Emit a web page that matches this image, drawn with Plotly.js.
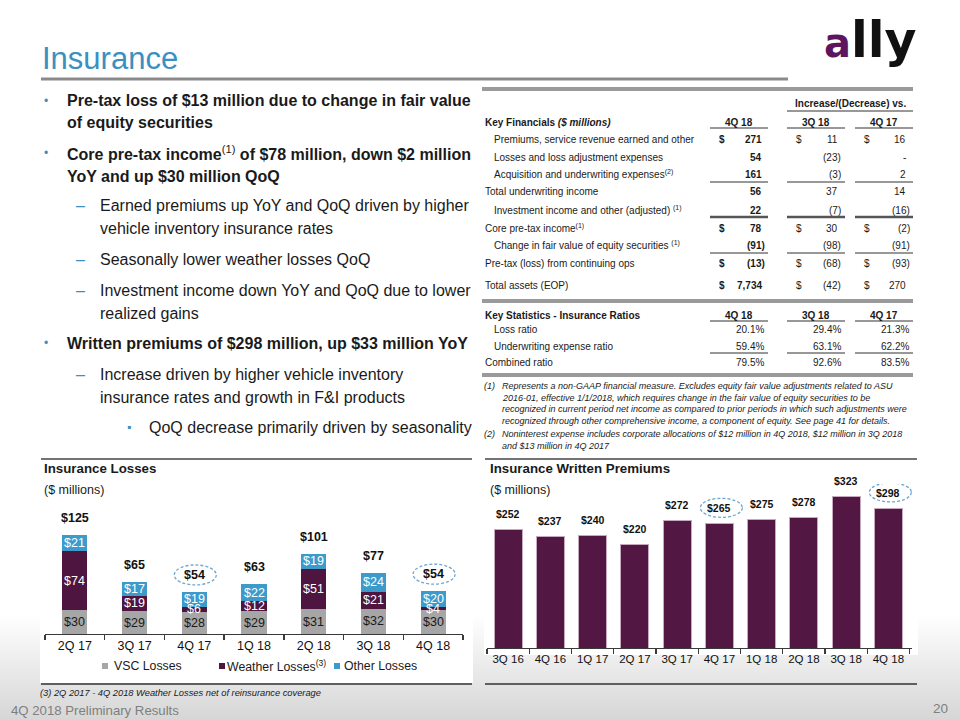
<!DOCTYPE html>
<html><head><meta charset="utf-8">
<script src="https://cdn.plot.ly/plotly-3.0.1.min.js"></script>
<style>
html,body{margin:0;padding:0;}
body{width:960px;height:720px;overflow:hidden;background:linear-gradient(to bottom,#ffffff 0px,#ffffff 615px,#d6d6d6 720px);}
#chart{width:960px;height:720px;}
</style></head><body><div id="chart"></div>
<script>
// ---------------- DATA ----------------
const lossQuarters = ["2Q 17","3Q 17","4Q 17","1Q 18","2Q 18","3Q 18","4Q 18"];
const vscLosses     = [30, 29, 28, 29, 31, 32, 30];
const weatherLosses = [74, 19, 6, 12, 51, 21, 4];
const otherLosses   = [21, 17, 19, 22, 19, 24, 20];
const totalLosses   = [125, 65, 54, 63, 101, 77, 54];
const lossHighlight = ["4Q 17", "4Q 18"];

const premiumQuarters = ["3Q 16","4Q 16","1Q 17","2Q 17","3Q 17","4Q 17","1Q 18","2Q 18","3Q 18","4Q 18"];
const writtenPremiums = [252, 237, 240, 220, 272, 265, 275, 278, 323, 298];
const premiumHighlight = ["4Q 17", "4Q 18"];

const finRowLabels = [
  "Premiums, service revenue earned and other",
  "Losses and loss adjustment expenses",
  "Acquisition and underwriting expenses<sup>(2)</sup>",
  "Total underwriting income",
  "Investment income and other (adjusted) <sup>(1)</sup>",
  "Core pre-tax income<sup>(1)</sup>",
  "Change in fair value of equity securities <sup>(1)</sup>",
  "Pre-tax (loss) from continuing ops",
  "Total assets (EOP)"
];
const finIndented = [true, true, true, false, true, false, true, false, false];
const finDollar   = [true, false, false, false, false, true, false, true, true];
const fin4Q18   = ["271", "54", "161", "56", "22", "78", "(91)", "(13)", "7,734"];
const finVs3Q18 = ["11", "(23)", "(3)", "37", "(7)", "30", "(98)", "(68)", "(42)"];
const finVs4Q17 = ["16", "-", "2", "14", "(16)", "(2)", "(91)", "(93)", "270"];
const tableCols = ["4Q 18", "3Q 18", "4Q 17"];

const ratioLabels = ["Loss ratio", "Underwriting expense ratio", "Combined ratio"];
const ratioIndented = [true, true, false];
const ratio4Q18 = ["20.1%", "59.4%", "79.5%"];
const ratio3Q18 = ["29.4%", "63.1%", "92.6%"];
const ratio4Q17 = ["21.3%", "62.2%", "83.5%"];

const footnotes = [
  ["(1)", "Represents a non-GAAP financial measure. Excludes equity fair value adjustments related to ASU"],
  ["",    "2016-01, effective 1/1/2018, which requires change in the fair value of equity securities to be"],
  ["",    "recognized in current period net income as compared to prior periods in which such adjustments were"],
  ["",    "recognized through other comprehensive income, a component of equity. See page 41 for details."],
  ["(2)", "Noninterest expense includes corporate allocations of $12 million in 4Q 2018, $12 million in 3Q 2018"],
  ["",    "and $13 million in 4Q 2017"]
];

// bullet lines: [level, marker?, text]
const bulletLines = [
  [0, true,  "<b>Pre-tax loss of $13 million due to change in fair value</b>"],
  [0, false, "<b>of equity securities</b>"],
  [0, true,  "<b>Core pre-tax income</b><sup>(1)</sup><b> of $78 million, down $2 million</b>"],
  [0, false, "<b>YoY and up $30 million QoQ</b>"],
  [1, true,  "Earned premiums up YoY and QoQ driven by higher"],
  [1, false, "vehicle inventory insurance rates"],
  [1, true,  "Seasonally lower weather losses QoQ"],
  [1, true,  "Investment income down YoY and QoQ due to lower"],
  [1, false, "realized gains"],
  [0, true,  "<b>Written premiums of $298 million, up $33 million YoY</b>"],
  [1, true,  "Increase driven by higher vehicle inventory"],
  [1, false, "insurance rates and growth in F&amp;I products"],
  [2, true,  "QoQ decrease primarily driven by seasonality"]
];

// ---------------- HELPERS ----------------
const FONT = "Liberation Sans, Arial, sans-serif";
const W = 960, H = 720;
const X = p => p / W, Y = p => 1 - p / H;
const ann = [], shapes = [];
function T(x, y, text, size, o = {}) {
  ann.push({xref:"paper", yref:"paper", x:X(x), y:Y(y), text:text, showarrow:false,
    xanchor:o.a || "left", yanchor:o.ya || "middle", borderpad:0,
    font:{family:o.f || FONT, size:size, color:o.c || "#1a1a1a"}});
}
function L(x0, y0, x1, y1, w, c) {
  shapes.push({type:"line", xref:"paper", yref:"paper", x0:X(x0), y0:Y(y0), x1:X(x1), y1:Y(y1),
    line:{color:c, width:w}});
}
function R(x0, y0, x1, y1, fill, layer) {
  shapes.push({type:"rect", xref:"paper", yref:"paper", x0:X(x0), y0:Y(y0), x1:X(x1), y1:Y(y1),
    fillcolor:fill, line:{width:0}, layer:layer || "below"});
}

// ---------------- SLIDE FRAME ----------------
R(40, 455, 473, 683, "#ffffff");
R(484, 455, 918, 655, "#ffffff");
T(41, 58, "Insurance", 31, {c:"#3A90C0"});
L(41, 79, 788, 79, 3, "#8a8a8a");
ann.push({xref:"paper", yref:"paper", x:X(823), y:Y(70), xanchor:"left", yanchor:"bottom", showarrow:false, borderpad:0,
  text:'<b><span style="color:#5E1560;font-size:40px">a</span>lly</b>',
  font:{family:"DejaVu Sans", size:49, color:"#111111"}});

// bullets
const bulletY = [101, 122, 153, 176, 205, 228, 259, 290, 313, 343, 374, 397, 427];
const markerX = [43, 75, 126], textX = [66, 99, 148], markerCh = ["•", "–", "▪"];
bulletLines.forEach((b, i) => {
  if (b[1]) T(markerX[b[0]], bulletY[i], markerCh[b[0]], b[0] === 1 ? 16 : 12, {c:"#3A90C0"});
  T(textX[b[0]], bulletY[i], b[2], 16);
});

// ---------------- TABLE ----------------
const TS = 10;
L(482, 89, 913, 89, 4, "#9a9a9a");
T(850, 104, "<b>Increase/(Decrease) vs.</b>", TS, {a:"center"});
L(787, 111, 913, 111, 1.2, "#333");
const colC = [739, 816, 884], colL = [[710, 768], [787, 845], [855, 913]];
const colDollar = [718, 795, 863], colRight = [762.5, 838.5, 907];
T(484, 122, "<b>Key Financials <i>($ millions)</i></b>", TS);
tableCols.forEach((c, j) => { T(colC[j], 122, "<b>" + c + "</b>", TS, {a:"center"}); L(colL[j][0], 128, colL[j][1], 128, 1.2, "#333"); });
const rowY = [139, 157, 174, 192, 210, 228, 245, 263, 286];
const cols = [fin4Q18, finVs3Q18, finVs4Q17];
finRowLabels.forEach((lab, i) => {
  T(finIndented[i] ? 493 : 484, rowY[i], lab, TS);
  cols.forEach((col, j) => {
    const v = col[i];
    const bold = j === 0;
    const wrap = s => bold ? "<b>" + s + "</b>" : s;
    if (finDollar[i]) T(colDollar[j], rowY[i], wrap("$"), TS);
    T(colRight[j] + (v.endsWith(")") ? 3.5 : 0), rowY[i], wrap(v), TS, {a:"right"});
  });
});
colL.forEach(c => { L(c[0], 182, c[1], 182, 1.2, "#333"); L(c[0], 217, c[1], 217, 2.6, "#555"); L(c[0], 253, c[1], 253, 1.2, "#333"); });
L(482, 301, 913, 301, 4, "#9a9a9a");
T(484, 315, "<b>Key Statistics - Insurance Ratios</b>", TS);
tableCols.forEach((c, j) => { T(colC[j], 315, "<b>" + c + "</b>", TS, {a:"center"}); L(colL[j][0], 321, colL[j][1], 321, 1.2, "#333"); });
const ratioY = [330, 346, 362], ratioRight = [765, 842, 910];
const rcols = [ratio4Q18, ratio3Q18, ratio4Q17];
ratioLabels.forEach((lab, i) => {
  T(ratioIndented[i] ? 493 : 484, ratioY[i], lab, TS);
  rcols.forEach((col, j) => T(ratioRight[j], ratioY[i], col[i], TS, {a:"right"}));
});
colL.forEach(c => L(c[0], 353, c[1], 353, 1.2, "#333"));
L(482, 375, 913, 375, 4, "#9a9a9a");
const fnY = [386, 398, 409, 421, 434, 446];
footnotes.forEach((f, i) => {
  if (f[0]) T(483, fnY[i], "<i>" + f[0] + "</i>", 9);
  T(501, fnY[i], "<i>" + f[1] + "</i>", 9);
});

// ---------------- CHART FRAMES ----------------
L(41, 459, 472, 459, 1.5, "#444");
L(485, 459, 917, 459, 1.5, "#444");
T(43, 468, "<b>Insurance Losses</b>", 13.3);
T(43, 490, "($ millions)", 12.5);
T(489, 468, "<b>Insurance Written Premiums</b>", 13.3);
T(489, 490, "($ millions)", 12.5);
L(41, 684, 472, 684, 1.5, "#333");
L(485, 684, 917, 684, 1.5, "#333");
T(39, 693, "<i>(3) 2Q 2017 - 4Q 2018 Weather Losses net of reinsurance coverage</i>", 9.3);
T(10, 710, "4Q 2018 Preliminary Results", 13.2, {c:"#7f7f7f"});
T(949, 708, "20", 13.5, {c:"#7f7f7f", a:"right"});

// legend (manual)
const legItems = [["VSC Losses", "#A6A6A6", 102, 113], ["Weather Losses<sup>(3)</sup>", "#4E1540", 219, 226], ["Other Losses", "#3D9BCB", 334, 343]];
legItems.forEach(it => { R(it[2], 663, it[2] + 6, 669, it[1], "above"); T(it[3], 666, it[0], 12.3); });

// ---------------- TRACES ----------------
const cLoss = {vsc:"#A6A6A6", weather:"#4E1540", other:"#3D9BCB"};
const traces = [
  {type:"bar", x:lossQuarters, y:vscLosses, name:"VSC Losses", marker:{color:cLoss.vsc}, width:0.42, xaxis:"x", yaxis:"y", hoverinfo:"skip"},
  {type:"bar", x:lossQuarters, y:weatherLosses, name:"Weather Losses", marker:{color:cLoss.weather}, width:0.42, xaxis:"x", yaxis:"y", hoverinfo:"skip"},
  {type:"bar", x:lossQuarters, y:otherLosses, name:"Other Losses", marker:{color:cLoss.other}, width:0.42, xaxis:"x", yaxis:"y", hoverinfo:"skip"},
  {type:"bar", x:premiumQuarters, y:writtenPremiums, name:"Written Premiums", marker:{color:"#521742", line:{color:"#C7A9BE", width:1}}, width:0.66, xaxis:"x2", yaxis:"y2", hoverinfo:"skip"}
];

// data-referenced labels
lossQuarters.forEach((q, i) => {
  const segs = [[vscLosses[i], 0, "#1a1a1a"], [weatherLosses[i], vscLosses[i], "#ffffff"], [otherLosses[i], vscLosses[i] + weatherLosses[i], "#ffffff"]];
  segs.forEach(s => ann.push({xref:"x", yref:"y", x:q, y:s[1] + s[0] / 2, text:"$" + s[0], showarrow:false, yanchor:"middle", borderpad:0,
    font:{family:FONT, size:12.5, color:s[2]}}));
  const top = vscLosses[i] + weatherLosses[i] + otherLosses[i];
  ann.push({xref:"x", yref:"y", x:q, y:top, yshift:17, text:"<b>$" + totalLosses[i] + "</b>", showarrow:false, yanchor:"middle", borderpad:0,
    font:{family:FONT, size:12.5, color:"#111"}});
  if (lossHighlight.includes(q)) shapes.push({type:"circle", xref:"x", yref:"y", xsizemode:"pixel", ysizemode:"pixel",
    xanchor:i, yanchor:top, x0:-20, x1:22, y0:7, y1:27, line:{color:"#6FA6CF", width:1.3, dash:"3px,2px"}});
});
premiumQuarters.forEach((q, i) => {
  ann.push({xref:"x2", yref:"y2", x:q, y:writtenPremiums[i], yshift:15.5, text:"<b>$" + writtenPremiums[i] + "</b>", showarrow:false, yanchor:"middle", borderpad:0,
    font:{family:FONT, size:10.5, color:"#111"}});
  if (premiumHighlight.includes(q)) shapes.push({type:"circle", xref:"x2", yref:"y2", xsizemode:"pixel", ysizemode:"pixel",
    xanchor:i, yanchor:writtenPremiums[i], x0:-19, x1:23, y0:6.5, y1:25.5, line:{color:"#6FA6CF", width:1.3, dash:"3px,2px"}});
});

const axX = (dom, anchor, fs) => ({domain:dom, anchor:anchor, type:"category", showline:true, linecolor:"#3a3a3a", linewidth:1.3,
  ticks:"outside", tickson:"boundaries", ticklen:5, tickcolor:"#3a3a3a", tickwidth:1.3, showgrid:false, zeroline:false,
  tickfont:{family:FONT, size:fs, color:"#111"}, fixedrange:true});
const layout = {
  width:W, height:H, margin:{l:0, r:0, t:0, b:0}, paper_bgcolor:"rgba(0,0,0,0)", plot_bgcolor:"rgba(0,0,0,0)",
  barmode:"stack", showlegend:false,
  xaxis:axX([X(45), X(463)], "y", 12.5),
  yaxis:{domain:[Y(634), Y(515)], anchor:"x", range:[0, 150], visible:false, fixedrange:true},
  xaxis2:axX([X(487), X(912)], "y2", 11.5),
  yaxis2:{domain:[Y(648), Y(484)], anchor:"x2", range:[0, 350], visible:false, fixedrange:true},
  annotations:ann, shapes:shapes
};
Plotly.newPlot("chart", traces, layout, {displayModeBar:false, staticPlot:true});
</script></body></html>
